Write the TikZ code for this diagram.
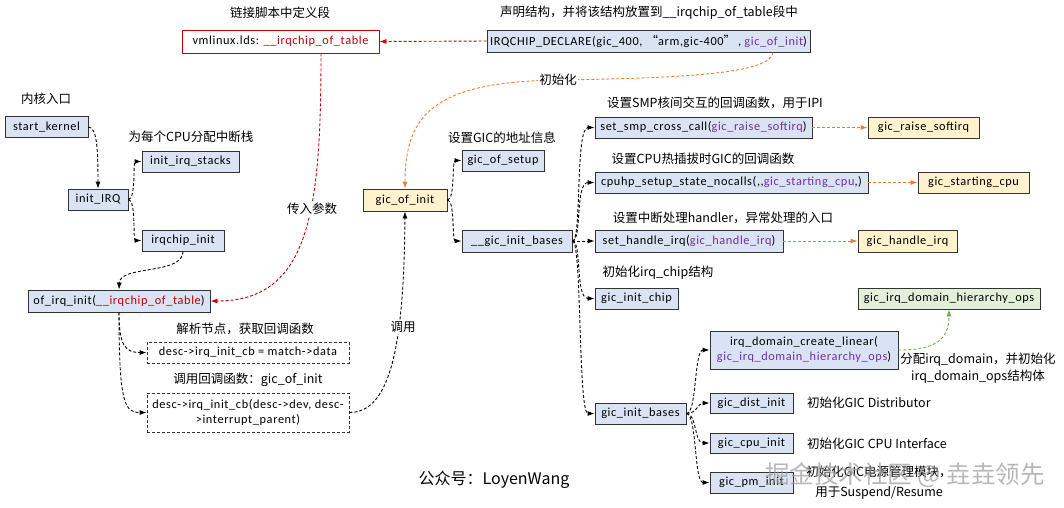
\documentclass[tikz,border=0pt]{standalone}
\usepackage{fontspec}
\setmainfont{Carlito}
\newfontfamily\cjk{Noto Sans CJK SC}
\newfontfamily\boxfont{Carlito}[LetterSpace=5]
\usetikzlibrary{arrows.meta}
\definecolor{boxblue}{HTML}{DAE3F3}
\definecolor{boxyellow}{HTML}{FFF2CC}
\definecolor{boxgreen}{HTML}{E2F0D9}
\definecolor{darkred}{HTML}{C00000}
\definecolor{purp}{HTML}{7030A0}
\definecolor{orangeline}{HTML}{ED7D31}
\definecolor{greenline}{HTML}{70AD47}
\tikzset{
  fbox/.style={draw=black!80, line width=0.9pt, fill=boxblue, minimum height=21pt,
    inner sep=0pt, font=\boxfont\fontsize{12.3}{15}\selectfont, anchor=center, align=center},
  ybox/.style={fbox, fill=boxyellow},
  gbox/.style={fbox, fill=boxgreen},
  rbox/.style={fbox, fill=white, draw=darkred},
  dbox/.style={fbox, fill=white, dash pattern=on 3pt off 2pt},
  lab/.style={font=\cjk\fontsize{12.5}{17}\selectfont, inner sep=1pt, align=center},
  conn/.style={draw=black, line width=0.9pt, dash pattern=on 3pt off 2pt,
    -{Latex[length=7pt,width=5pt]}},
  oconn/.style={conn, draw=orangeline, color=orangeline},
  rconn/.style={conn, draw=darkred, color=darkred},
  gconn/.style={conn, draw=greenline, color=greenline},
}
\begin{document}
\begin{tikzpicture}[x=1pt,y=-1pt]
\useasboundingbox (0,0) rectangle (1064,507);
% top
\node[lab] (t1) at (280,13) {链接脚本中定义段};
\node[lab] (t2) at (649,13) {声明结构，并将该结构放置到\_\_irqchip\_of\_table段中};
\node[rbox, minimum width=197pt, minimum height=23pt] (vml) at (280.5,41.5)
  {vmlinux.lds: \textcolor{darkred}{\_\_irqchip\_of\_table}};
\node[fbox, minimum width=323pt, minimum height=22pt] (irq) at (648.5,41)
  {IRQCHIP\_DECLARE(gic\_400,\ {\cjk “}arm,gic-400{\cjk ”}\,, \textcolor{purp}{gic\_of\_init})};
% left column
\node[lab] (t3) at (46,99) {内核入口};
\node[fbox, minimum width=83pt] (sk) at (46.5,127) {start\_kernel};
\node[lab] (t4) at (191,137) {为每个CPU分配中断栈};
\node[fbox, minimum width=97pt] (stk) at (190.5,161.5) {init\_irq\_stacks};
\node[fbox, minimum width=60pt] (ii) at (98,199.5) {init\_IRQ};
\node[fbox, minimum width=82pt] (ic) at (183,240.5) {irqchip\_init};
\node[fbox, minimum width=182pt, minimum height=22pt] (oii) at (119,301)
  {of\_irq\_init(\textcolor{darkred}{\_\_irqchip\_of\_table})};
\node[lab] (t5) at (245,329) {解析节点，获取回调函数};
\node[dbox, minimum width=202pt] (d1) at (248,352.5) {desc->irq\_init\_cb = match->data};
\node[lab] (t6) at (248,380) {调用回调函数：gic\_of\_init};
\node[dbox, minimum width=202pt, minimum height=39pt] (d2) at (248,412.5)
  {desc->irq\_init\_cb(desc->dev, desc-\\>interrupt\_parent)};
% middle
\node[ybox, minimum width=84pt, minimum height=22pt] (goi) at (405,200) {gic\_of\_init};
\node[lab] (t7) at (502,138) {设置GIC的地址信息};
\node[fbox, minimum width=82pt] (gos) at (503,160.5) {gic\_of\_setup};
\node[fbox, minimum width=110pt, minimum height=22pt] (gib) at (517,241) {\_\_gic\_init\_bases};
% right
\node[lab] (t8) at (715,103) {设置SMP核间交互的回调函数，用于IPI};
\node[fbox, minimum width=217pt] (smp) at (703.5,127.5)
  {set\_smp\_cross\_call(\textcolor{purp}{gic\_raise\_softirq})};
\node[ybox, minimum width=111pt] (grs) at (923.5,127.5) {gic\_raise\_softirq};
\node[lab] (t9) at (703,159) {设置CPU热插拔时GIC的回调函数};
\node[fbox, minimum width=273pt] (cph) at (731.5,182.5)
  {cpuhp\_setup\_state\_nocalls(,,\textcolor{purp}{gic\_starting\_cpu},)};
\node[ybox, minimum width=111pt] (gsc) at (973.5,182.5) {gic\_starting\_cpu};
\node[lab] (t10) at (723,218) {设置中断处理handler，异常处理的入口};
\node[fbox, minimum width=188pt, minimum height=22pt] (shi) at (689,241)
  {set\_handle\_irq(\textcolor{purp}{gic\_handle\_irq})};
\node[ybox, minimum width=99pt, minimum height=22pt] (ghi) at (907.5,241) {gic\_handle\_irq};
\node[lab] (t11) at (658,273) {初始化irq\_chip结构};
\node[fbox, minimum width=83pt] (gch) at (636.5,298.5) {gic\_init\_chip};
\node[gbox, minimum width=182pt] (gido) at (949,298.5) {gic\_irq\_domain\_hierarchy\_ops};
\node[fbox, minimum width=188pt, minimum height=38pt] (idcl) at (804,350)
  {irq\_domain\_create\_linear(\\\textcolor{purp}{gic\_irq\_domain\_hierarchy\_ops})};
\node[lab] (t12) at (978,368.5) {分配irq\_domain，并初始化\\irq\_domain\_ops结构体};
\node[fbox, minimum width=91pt] (gib2) at (640.5,413.5) {gic\_init\_bases};
\node[fbox, minimum width=83pt, minimum height=20pt] (gdi) at (751.5,403) {gic\_dist\_init};
\node[lab, anchor=west] (t13) at (806,403) {初始化GIC Distributor};
\node[fbox, minimum width=83pt, minimum height=20pt] (gci) at (751.5,443) {gic\_cpu\_init};
\node[lab, anchor=west] (t14) at (806,444) {初始化GIC CPU Interface};
\node[fbox, minimum width=83pt] (gpi) at (751.5,482.5) {gic\_pm\_init};
\node[lab, font=\cjk\fontsize{12.5}{20}\selectfont] (t15) at (879,483) {初始化GIC电源管理模块，\\用于Suspend/Resume};
\node[lab, font=\cjk\fontsize{16}{18}\selectfont] (t16) at (494,480) {公众号：LoyenWang};
% connectors left
\draw[conn] (sk.east) .. controls (97,127) and (98,150) .. (ii.north);
\draw[conn] (ii.east) .. controls (136,199.5) and (133,161.5) .. (stk.west);
\draw[conn] (ii.east) .. controls (136,199.5) and (133,240.5) .. (ic.west);
\draw[conn] (ic.south) .. controls (183,275) and (120,265) .. (oii.north);
\draw[conn] (oii.south) .. controls (119,345) and (125,352.5) .. (d1.west);
\draw[conn] (oii.south) .. controls (119,405) and (125,412.5) .. (d2.west);
\draw[conn] (d2.east) .. controls (392,412.5) and (404,340) .. (goi.south);
\node[lab, fill=white] (l1) at (403,327) {调用};
% red
\draw[rconn] (irq.west) -- (vml.east);
\draw[rconn] ([xshift=40.5pt]vml.south) .. controls (321,210) and (310,301) .. (oii.east);
\node[lab, fill=white] (l2) at (312,209) {传入参数};
% orange
\draw[oconn] ([xshift=124.5pt]irq.south) .. controls (770,72) and (700,78) .. (558,80)
  .. controls (440,82) and (405,110) .. (goi.north);
\node[lab, fill=white] (l3) at (558,80) {初始化};
% middle
\draw[conn] (goi.east) .. controls (455,200) and (452,160.5) .. (gos.west);
\draw[conn] (goi.east) .. controls (455,200) and (452,241) .. (gib.west);
\draw[conn] (gib.east) .. controls (582,241) and (575,127.5) .. (smp.west);
\draw[conn] (gib.east) .. controls (582,241) and (575,182.5) .. (cph.west);
\draw[conn] (gib.east) -- (shi.west);
\draw[conn] (gib.east) .. controls (582,241) and (575,298.5) .. (gch.west);
\draw[conn] (gib.east) .. controls (582,241) and (578,413.5) .. (gib2.west);
\draw[oconn] (smp.east) -- (grs.west);
\draw[oconn] (cph.east) -- (gsc.west);
\draw[oconn] (shi.east) -- (ghi.west);
\draw[conn] (gib2.east) .. controls (697,413.5) and (694,350) .. (idcl.west);
\draw[conn] (gib2.east) .. controls (697,413.5) and (698,403) .. (gdi.west);
\draw[conn] (gib2.east) .. controls (697,413.5) and (694,443) .. (gci.west);
\draw[conn] (gib2.east) .. controls (697,413.5) and (694,482.5) .. (gpi.west);
\draw[gconn] (idcl.east) .. controls (935,350) and (949,340) .. (gido.south);
% watermark
\node[font=\cjk\fontsize{24.5}{26}\selectfont, text=black!40, opacity=0.7] (wm) at (905,475) {掘金技术社区 @ 垚垚领先};
\end{tikzpicture}
\end{document}
